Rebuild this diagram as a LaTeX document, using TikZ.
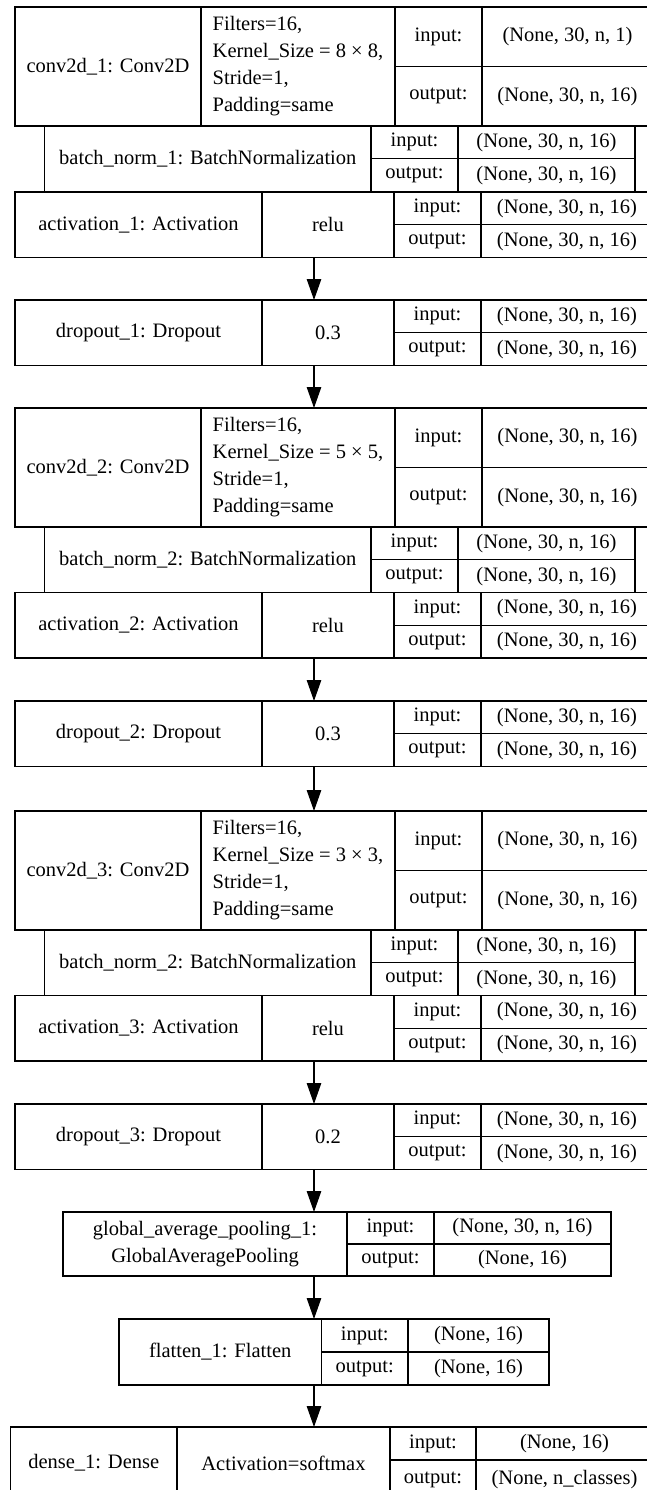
\documentclass[tikz,border=0pt]{standalone}
\usepackage{fontspec}
\setmainfont{Liberation Serif}
\usetikzlibrary{arrows.meta,positioning}

\tikzset{
  cell/.style={draw, line width=1.1pt, inner sep=0pt, outer sep=0pt, anchor=north west,
    font=\fontsize{20.5}{27}\selectfont},
  wh/.style 2 args={minimum width=#1, minimum height=#2},
  flow/.style={line width=1.1pt, -{Triangle[width=14.5pt,length=21pt]}},
}

\begin{document}
\begin{tikzpicture}[x=1pt, y=-1pt]
\useasboundingbox (0,0) rectangle (647,1490);
\clip (0,0) rectangle (647,1490);
\coordinate (ax) at (314,0);

% convolution layers
\foreach \i/\ks/\y/\ch in {1/8/7/1, 2/5/408/16, 3/3/811/16}{
  \node[cell, wh={186}{119}] (conv\i) at (15,\y) {conv2d\_\i: Conv2D};
  \node[cell, wh={194}{119}, align=left] (conv\i-p) at (conv\i.north east)
    {Filters=16,\\Kernel\_Size = \ks{} × \ks,\\Stride=1,\\Padding=same};
  \node[cell, wh={87}{59.5}] (conv\i-i) at (conv\i-p.north east) {input:};
  \node[cell, wh={87}{59.5}] (conv\i-o) at (conv\i-i.south west) {output:};
  \node[cell, wh={171}{59.5}] (conv\i-iv) at (conv\i-i.north east) {(None, 30, n, \ch)};
  \node[cell, wh={171}{59.5}] (conv\i-ov) at (conv\i-o.north east) {(None, 30, n, 16)};
}

% batch normalization
\foreach \i/\j/\y in {1/1/126, 2/2/527, 3/2/930}{
  \node[cell, wh={326.4}{65.5}] (bn\i) at (44.6,\y) {batch\_norm\_\j: BatchNormalization};
  \node[cell, wh={87}{32.75}] (bn\i-i) at (bn\i.north east) {input:};
  \node[cell, wh={87}{32.75}] (bn\i-o) at (bn\i-i.south west) {output:};
  \node[cell, wh={177}{32.75}] (bn\i-iv) at (bn\i-i.north east) {(None, 30, n, 16)};
  \node[cell, wh={177}{32.75}] (bn\i-ov) at (bn\i-o.north east) {(None, 30, n, 16)};
}

% activation and dropout
\foreach \nm/\lbl/\arg/\y in {act1/activation\_1: Activation/relu/192, drop1/dropout\_1: Dropout/0.3/300,
    act2/activation\_2: Activation/relu/592.5, drop2/dropout\_2: Dropout/0.3/701,
    act3/activation\_3: Activation/relu/995.5, drop3/dropout\_3: Dropout/0.2/1104}{
  \node[cell, wh={247}{65.5}] (\nm) at (15,\y) {\lbl};
  \node[cell, wh={132}{65.5}] (\nm-p) at (\nm.north east) {\arg};
  \node[cell, wh={87}{32.75}] (\nm-i) at (\nm-p.north east) {input:};
  \node[cell, wh={87}{32.75}] (\nm-o) at (\nm-i.south west) {output:};
  \node[cell, wh={172}{32.75}] (\nm-iv) at (\nm-i.north east) {(None, 30, n, 16)};
  \node[cell, wh={172}{32.75}] (\nm-ov) at (\nm-o.north east) {(None, 30, n, 16)};
}

% pooling
\node[cell, wh={284}{64}, align=center] (gap) at (63,1212) {global\_average\_pooling\_1:\\GlobalAveragePooling};
\node[cell, wh={87}{32}] (gap-i) at (gap.north east) {input:};
\node[cell, wh={87}{32}] (gap-o) at (gap-i.south west) {output:};
\node[cell, wh={177}{32}] (gap-iv) at (gap-i.north east) {(None, 30, n, 16)};
\node[cell, wh={177}{32}] (gap-ov) at (gap-o.north east) {(None, 16)};

% flatten
\node[cell, wh={202.5}{66}] (flat) at (119,1319) {flatten\_1: Flatten};
\node[cell, wh={86.5}{33}] (flat-i) at (flat.north east) {input:};
\node[cell, wh={86.5}{33}] (flat-o) at (flat-i.south west) {output:};
\node[cell, wh={141}{33}] (flat-iv) at (flat-i.north east) {(None, 16)};
\node[cell, wh={141}{33}] (flat-ov) at (flat-o.north east) {(None, 16)};

% dense (cut off by the page edge)
\node[cell, wh={166.5}{72}] (dense) at (10.5,1427) {dense\_1: Dense};
\node[cell, wh={213}{72}] (dense-p) at (dense.north east) {Activation=softmax};
\node[cell, wh={86}{33}] (dense-i) at (dense-p.north east) {input:};
\node[cell, wh={86}{39}] (dense-o) at (dense-i.south west) {output:};
\node[cell, wh={177}{33}] (dense-iv) at (dense-i.north east) {(None, 16)};
\node[cell, wh={177}{39}] (dense-ov) at (dense-o.north east) {(None, n\_classes)};

\foreach \a/\b in {act1/drop1, drop1/conv2, act2/drop2, drop2/conv3, act3/drop3, drop3/gap, gap/flat, flat/dense}
  \draw[flow] (\a.south -| ax) -- (\b.north -| ax);
\end{tikzpicture}
\end{document}
